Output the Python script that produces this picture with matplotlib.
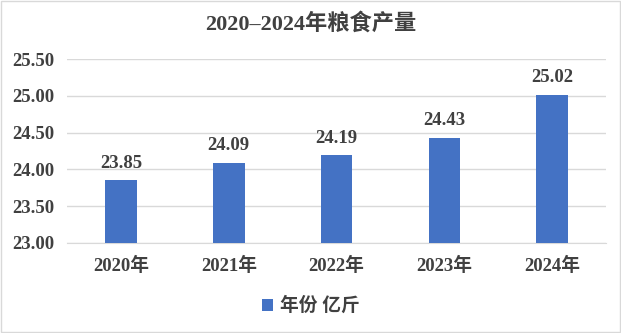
import matplotlib
matplotlib.use('Agg')
import matplotlib.pyplot as plt
from matplotlib.patches import Rectangle

years = ['2020年', '2021年', '2022年', '2023年', '2024年']
output = [23.85, 24.09, 24.19, 24.43, 25.02]
series_name = '年份 亿斤'
title = '2020–2024年粮食产量'

plt.rcParams['font.family'] = ['Liberation Serif', 'Noto Sans CJK SC']
plt.rcParams['font.weight'] = 'bold'
txt = '#404040'
bar_color = '#4472C4'

fig = plt.figure(figsize=(6.21, 3.33), dpi=100)
ax = fig.add_axes([0.108, 0.271, 0.868, 0.551])

x = range(len(years))
ax.bar(x, output, width=0.294, color=bar_color, label=series_name, zorder=3)
for xi, v in zip(x, output):
    ax.annotate(f'{v:.2f}', (xi, v), xytext=(0, 6), textcoords='offset points',
                ha='center', va='bottom', fontsize=13.5, fontweight='bold', color=txt)

ax.set_ylim(23.0, 25.5)
ax.set_xlim(-0.5, len(years) - 0.5)
ax.set_yticks([23.0, 23.5, 24.0, 24.5, 25.0, 25.5])
ax.set_yticklabels([f'{t:.2f}' for t in ax.get_yticks()], fontsize=13.5, fontweight='bold', color=txt)
ax.set_xticks(list(x))
ax.set_xticklabels(years, fontsize=13.5, fontweight='bold', color=txt)
ax.tick_params(axis='x', length=0, pad=10)
ax.tick_params(axis='y', length=0, pad=9)
ax.grid(axis='y', color='#D9D9D9', linewidth=1, zorder=0)
for s in ['top', 'right', 'left']:
    ax.spines[s].set_visible(False)
ax.spines['bottom'].set_color('#D9D9D9')

fig.text(0.5, 0.93, title, ha='center', va='center', fontsize=16,
         fontweight='bold', color=txt)

fig.legend(loc='center', bbox_to_anchor=(0.5, 0.081), frameon=False,
           prop={'size': 13.5, 'weight': 'bold'}, labelcolor=txt,
           handlelength=0.6, handleheight=0.6, handletextpad=0.35)

fig.patches.append(Rectangle((0.002, 0.003), 0.996, 0.994, transform=fig.transFigure,
                             fill=False, edgecolor='#D9D9D9', linewidth=1))

fig.savefig('out.png', dpi=100, facecolor='white')
